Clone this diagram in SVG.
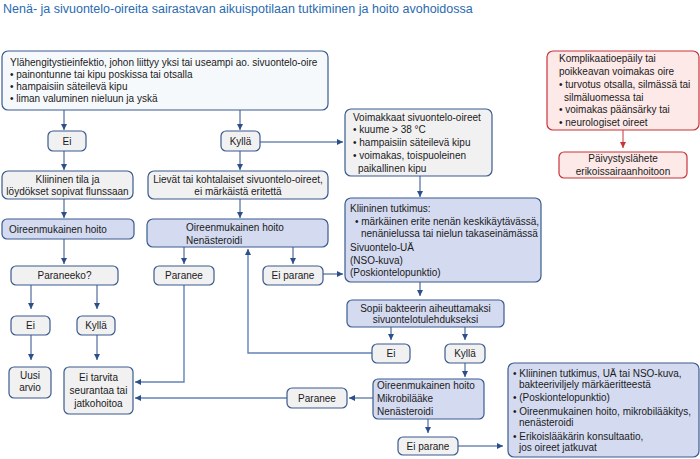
<svg xmlns="http://www.w3.org/2000/svg" width="700" height="459" viewBox="0 0 700 459">
<style>
text{font-family:"Liberation Sans",Arial,sans-serif;font-size:10px;fill:#1a1a1a}
.t{font-size:12.5px;fill:#2a6ab0}
.c{text-anchor:middle}
.g{fill:#f1f1f2;stroke:#3a5a8e;stroke-width:1.2}
.w{fill:#f6f9fc;stroke:#3a5a8e;stroke-width:1.2}
.l{fill:#d4dbf1;stroke:#3a5a8e;stroke-width:1.2}
.r{fill:#fde9e8;stroke:#c8343a;stroke-width:1.2}
.a{fill:none;stroke:#2c4f8a;stroke-width:1}
.b{fill:none;stroke:#6383b8;stroke-width:1.4}
.ar{fill:none;stroke:#c8343a;stroke-width:1}
</style>
<defs>
<marker id="m" viewBox="0 0 6 6" refX="6" refY="3" markerWidth="6" markerHeight="6" markerUnits="userSpaceOnUse" orient="auto"><path d="M0,0L6,3L0,6z" fill="#2c4f8a"/></marker>
<marker id="mr" viewBox="0 0 6 6" refX="6" refY="3" markerWidth="6" markerHeight="6" markerUnits="userSpaceOnUse" orient="auto"><path d="M0,0L6,3L0,6z" fill="#c8343a"/></marker>
</defs>
<text class="t" x="3" y="13">Nenä- ja sivuontelo-oireita sairastavan aikuispotilaan tutkiminen ja hoito avohoidossa</text>
<g id="connectors">
<path class="a" marker-end="url(#m)" d="M64,110V130"/>
<path class="a" marker-end="url(#m)" d="M240,110V130"/>
<path class="a" marker-end="url(#m)" d="M260,142H343"/>
<path class="a" marker-end="url(#m)" d="M64,151V170"/>
<path class="a" marker-end="url(#m)" d="M240,151V170"/>
<path class="a" marker-end="url(#m)" d="M64,199V218"/>
<path class="a" marker-end="url(#m)" d="M240,199V218"/>
<path class="a" marker-end="url(#m)" d="M64,239V264"/>
<path class="a" marker-end="url(#m)" d="M184,247V264"/>
<path class="a" marker-end="url(#m)" d="M293,247V264"/>
<path class="a" marker-end="url(#m)" d="M323,274H343"/>
<path class="a" marker-end="url(#m)" d="M31,285V309"/>
<path class="a" marker-end="url(#m)" d="M97,285V309"/>
<path class="a" marker-end="url(#m)" d="M31,335V360"/>
<path class="a" marker-end="url(#m)" d="M97,335V360"/>
<path class="b" d="M184,285V382H138"/>
<path class="a" marker-end="url(#m)" d="M140,382H135"/>
<path class="b" d="M287,398H138"/>
<path class="a" marker-end="url(#m)" d="M140,398H135"/>
<path class="a" marker-end="url(#m)" d="M420,176V197"/>
<path class="a" marker-end="url(#m)" d="M420,282V296"/>
<path class="a" marker-end="url(#m)" d="M391,327V340"/>
<path class="a" marker-end="url(#m)" d="M465,327V340"/>
<path class="b" d="M372,353H248V252"/>
<path class="a" marker-end="url(#m)" d="M248,254V249"/>
<path class="a" marker-end="url(#m)" d="M465,363V377"/>
<path class="a" marker-end="url(#m)" d="M373,398H349"/>
<path class="a" marker-end="url(#m)" d="M428,419V433"/>
<path class="a" marker-end="url(#m)" d="M458,446H503"/>
<path class="ar" marker-end="url(#mr)" d="M623,130V148"/>
</g>
<g id="n1"><rect class="w" x="2" y="51" width="326" height="59" rx="6"/>
<text x="10" y="66">Ylähengitystieinfektio, johon liittyy yksi tai useampi ao. sivuontelo-oire</text>
<text x="10" y="78">• painontunne tai kipu poskissa tai otsalla</text>
<text x="10" y="90">• hampaisiin säteilevä kipu</text>
<text x="10" y="102">• liman valuminen nieluun ja yskä</text></g>
<g id="n2"><rect class="g" x="48" y="131" width="38" height="20" rx="5"/><text class="c" x="67" y="145">Ei</text></g>
<g id="n3"><rect class="g" x="221" y="131" width="39" height="20" rx="5"/><text class="c" x="240.5" y="145">Kyllä</text></g>
<g id="n4"><rect class="g" x="2" y="171" width="131" height="28" rx="6"/><text class="c" x="67.5" y="183">Kliininen tila ja</text><text class="c" x="67.5" y="195">löydökset sopivat flunssaan</text></g>
<g id="n5"><rect class="g" x="148" y="171" width="180" height="28" rx="6"/><text class="c" x="238" y="183">Lievät tai kohtalaiset sivuontelo-oireet,</text><text class="c" x="238" y="195">ei märkäistä eritettä</text></g>
<g id="n6"><rect class="l" x="2" y="219" width="132" height="20" rx="5"/><text x="9" y="233">Oireenmukainen hoito</text></g>
<g id="n7"><rect class="l" x="147" y="219" width="181" height="28" rx="6"/><text x="186" y="231">Oireenmukainen hoito</text><text x="186" y="244">Nenästeroidi</text></g>
<g id="n8"><rect class="g" x="11" y="266" width="107" height="19" rx="5"/><text class="c" x="64.5" y="279">Paraneeko?</text></g>
<g id="n9"><rect class="g" x="154" y="266" width="60" height="19" rx="5"/><text class="c" x="184" y="279">Paranee</text></g>
<g id="n10"><rect class="g" x="263" y="266" width="60" height="19" rx="5"/><text class="c" x="293" y="279">Ei parane</text></g>
<g id="n11"><rect class="g" x="11" y="316" width="39" height="19" rx="5"/><text class="c" x="30.5" y="329">Ei</text></g>
<g id="n12"><rect class="g" x="77" y="316" width="38" height="19" rx="5"/><text class="c" x="96" y="329">Kyllä</text></g>
<g id="n13"><rect class="g" x="9" y="367" width="42" height="31" rx="5"/><text class="c" x="30" y="379">Uusi</text><text class="c" x="30" y="391">arvio</text></g>
<g id="n14"><rect class="g" x="64" y="367" width="69" height="47" rx="5"/><text class="c" x="98.5" y="381">Ei tarvita</text><text class="c" x="98.5" y="394">seurantaa tai</text><text class="c" x="98.5" y="407">jatkohoitoa</text></g>
<g id="n15"><rect class="g" x="345" y="109" width="147" height="67" rx="6"/>
<text x="353" y="121">Voimakkaat sivuontelo-oireet</text>
<text x="353" y="133">• kuume &gt; 38 °C</text>
<text x="353" y="146">• hampaisiin säteilevä kipu</text>
<text x="353" y="159">• voimakas, toispuoleinen</text>
<text x="358" y="172">paikallinen kipu</text></g>
<g id="n16"><rect class="l" x="345" y="198" width="196" height="84" rx="6"/>
<text x="350" y="212">Kliininen tutkimus:</text>
<text x="355" y="225">• märkäinen erite nenän keskikäytävässä,</text>
<text x="361" y="237">nenänielussa tai nielun takaseinämässä</text>
<text x="350" y="251">Sivuontelo-UÄ</text>
<text x="350" y="264">(NSO-kuva)</text>
<text x="350" y="276">(Poskiontelopunktio)</text></g>
<g id="n17"><rect class="l" x="347" y="300" width="157" height="27" rx="5"/><text class="c" x="425.5" y="312">Sopii bakteerin aiheuttamaksi</text><text class="c" x="425.5" y="323">sivuontelotulehdukseksi</text></g>
<g id="n18"><rect class="g" x="372" y="344" width="38" height="19" rx="5"/><text class="c" x="391" y="357">Ei</text></g>
<g id="n19"><rect class="g" x="445" y="344" width="40" height="19" rx="5"/><text class="c" x="465" y="357">Kyllä</text></g>
<g id="n20"><rect class="l" x="373" y="379" width="111" height="40" rx="5"/><text x="377" y="389">Oireenmukainen hoito</text><text x="377" y="402">Mikrobilääke</text><text x="377" y="415">Nenästeroidi</text></g>
<g id="n21"><rect class="g" x="287" y="388" width="60" height="20" rx="5"/><text class="c" x="317" y="402">Paranee</text></g>
<g id="n22"><rect class="g" x="398" y="437" width="60" height="18" rx="5"/><text class="c" x="428" y="450">Ei parane</text></g>
<g id="n23"><rect class="l" x="508" y="363" width="191" height="94" rx="6"/>
<text x="513" y="377">• Kliininen tutkimus, UÄ tai NSO-kuva,</text>
<text x="519" y="388">bakteeriviljely märkäeritteestä</text>
<text x="513" y="401">• (Poskiontelopunktio)</text>
<text x="513" y="415">• Oireenmukainen hoito, mikrobilääkitys,</text>
<text x="519" y="426">nenästeroidi</text>
<text x="513" y="440">• Erikoislääkärin konsultaatio,</text>
<text x="519" y="451">jos oireet jatkuvat</text></g>
<g id="n24"><rect class="r" x="547" y="51" width="152" height="79" rx="6"/>
<text x="559" y="62">Komplikaatioepäily tai</text>
<text x="559" y="75">poikkeavan voimakas oire</text>
<text x="559" y="88">• turvotus otsalla, silmässä tai</text>
<text x="564" y="101">silmäluomessa tai</text>
<text x="559" y="113">• voimakas päänsärky tai</text>
<text x="559" y="126">• neurologiset oireet</text></g>
<g id="n25"><rect class="r" x="559" y="152" width="128" height="26" rx="5"/><text class="c" x="623" y="162">Päivystyslähete</text><text class="c" x="623" y="175">erikoissairaanhoitoon</text></g>
</svg>
